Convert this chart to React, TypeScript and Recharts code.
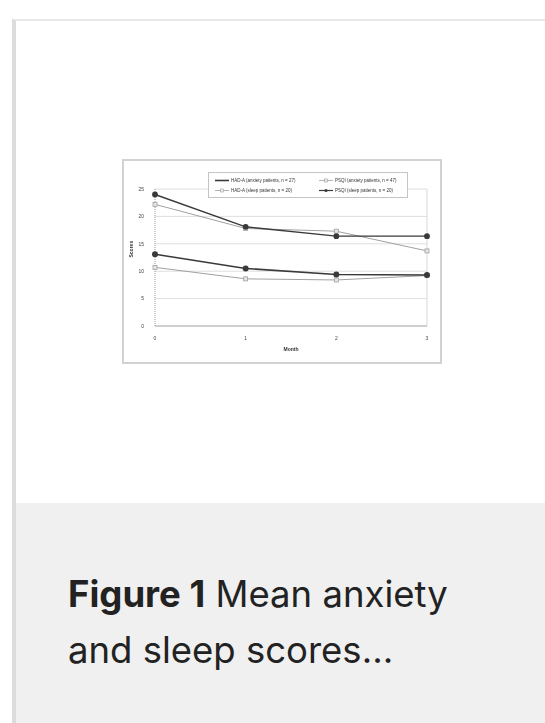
import { LineChart, Line, XAxis, YAxis, CartesianGrid, Legend, ReferenceLine } from "recharts";

const months = ["0", "1", "2", "3"];
const hadAnxiety = [13.1, 10.5, 9.4, 9.3];
const psqiAnxiety = [10.7, 8.6, 8.4, 9.2];
const hadSleep = [22.2, 17.8, 17.3, 13.7];
const psqiSleep = [24.0, 18.1, 16.4, 16.4];
const yTicks = [0, 5, 10, 15, 20, 25];

const seriesNames = {
  hadAnxiety: "HAD-A (anxiety patients, n = 27)",
  psqiAnxiety: "PSQI (anxiety patients, n = 47)",
  hadSleep: "HAD-A (sleep patients, n = 20)",
  psqiSleep: "PSQI (sleep patients, n = 20)",
};

const data = months.map((m, i) => ({
  month: m,
  hadAnxiety: hadAnxiety[i],
  psqiAnxiety: psqiAnxiety[i],
  hadSleep: hadSleep[i],
  psqiSleep: psqiSleep[i],
}));

const DARK = "#3a3a3a";
const GRAY = "#a0a0a0";
const chartFont = "'Liberation Sans', Arial, sans-serif";

function SquareDot(props: any) {
  const { cx, cy } = props;
  if (cx == null || cy == null) return null;
  return <rect x={cx - 2} y={cy - 2} width={4} height={4} fill="#e6e6e6" stroke={GRAY} strokeWidth={0.8} />;
}

function Swatch({ color, width, marker }: { color: string; width: number; marker?: "dot" | "square" }) {
  return (
    <svg width={14} height={5} style={{ display: "block", flex: "none" }}>
      <line x1={0} y1={2.5} x2={14} y2={2.5} stroke={color} strokeWidth={width} />
      {marker === "dot" && <circle cx={7} cy={2.5} r={1.6} fill={color} />}
      {marker === "square" && <rect x={5.5} y={1} width={3} height={3} fill="#eee" stroke={color} strokeWidth={0.6} />}
    </svg>
  );
}

function LegendBox() {
  const items: [string, string, number, ("dot" | "square")?][] = [
    [seriesNames.hadAnxiety, DARK, 1.6],
    [seriesNames.psqiAnxiety, GRAY, 0.8, "square"],
    [seriesNames.hadSleep, GRAY, 0.8, "square"],
    [seriesNames.psqiSleep, DARK, 1.2, "dot"],
  ];
  return (
    <div
      style={{
        boxSizing: "border-box",
        width: 200,
        height: 26,
        border: "1px solid #c4c4c4",
        background: "#fff",
        display: "grid",
        gridTemplateColumns: "104px 94px",
        alignItems: "center",
        padding: "2px 0 2px 6px",
        fontFamily: chartFont,
        fontSize: 4.5,
        color: "#333",
      }}
    >
      {items.map(([name, color, w, marker]) => (
        <div key={name} style={{ display: "flex", alignItems: "center", gap: 2, whiteSpace: "nowrap" }}>
          <Swatch color={color} width={w} marker={marker} />
          <span>{name}</span>
        </div>
      ))}
    </div>
  );
}

export default function App() {
  return (
    <div style={{ position: "absolute", left: 0, top: 0, width: 545, height: 723, background: "#fff", overflow: "hidden" }}>
      {/* card frame */}
      <div style={{ position: "absolute", left: 12, top: 19, right: 0, bottom: 0, borderLeft: "4px solid #dcdcdc", borderTop: "2px solid #e8e8e8" }} />
      {/* caption band */}
      <div style={{ position: "absolute", left: 16, top: 503, right: 0, bottom: 0, background: "#f0f0f0" }} />
      <div
        style={{
          position: "absolute",
          left: 68,
          top: 566,
          width: 420,
          fontFamily: "Inter, 'Noto Sans', sans-serif",
          fontSize: 36.5,
          lineHeight: "56px",
          color: "#222",
          whiteSpace: "nowrap",
        }}
      >
        <span style={{ fontWeight: 700 }}>Figure 1</span>
        <span> Mean anxiety</span>
        <br />
        <span>and sleep scores…</span>
      </div>

      {/* figure thumbnail */}
      <div style={{ position: "absolute", left: 122, top: 159, width: 320, height: 205, boxSizing: "border-box", border: "2px solid #d2d2d2", background: "#fff" }} />
      <div style={{ position: "absolute", left: 123, top: 160, width: 318, height: 203, filter: "blur(0.5px)" }}>
        <LineChart width={318} height={203} data={data} margin={{ top: 3, right: 14, bottom: 0, left: 0 }}>
          <CartesianGrid vertical={false} stroke="#d6d6d6" strokeWidth={0.8} />
          <XAxis
            dataKey="month"
            height={37}
            axisLine={{ stroke: "#b0b0b0" }}
            tickLine={false}
            tick={{ fontSize: 5, fill: "#444", fontFamily: chartFont }}
            tickMargin={4}
            label={{ value: "Month", position: "insideBottom", offset: 12, fontSize: 5, fill: "#333", fontWeight: 700, fontFamily: chartFont }}
          />
          <YAxis
            width={32}
            domain={[0, 25]}
            ticks={yTicks}
            axisLine={{ stroke: "#999", strokeDasharray: "1 1" }}
            tickLine={false}
            tick={{ fontSize: 5, fill: "#444", fontFamily: chartFont }}
            tickMargin={5}
            label={{ value: "Scores", angle: -90, position: "insideLeft", offset: 8, fontSize: 5, fill: "#333", fontWeight: 700, fontFamily: chartFont }}
          />
          <ReferenceLine x="3" stroke="#cfcfcf" strokeWidth={0.8} />
          <Legend
            verticalAlign="top"
            content={<LegendBox />}
            wrapperStyle={{ position: "absolute", left: 85, top: 12, width: 200, height: 26 }}
          />
          <Line dataKey="psqiAnxiety" name={seriesNames.psqiAnxiety} stroke={GRAY} strokeWidth={1} dot={<SquareDot />} isAnimationActive={false} />
          <Line dataKey="hadSleep" name={seriesNames.hadSleep} stroke={GRAY} strokeWidth={1} dot={<SquareDot />} isAnimationActive={false} />
          <Line dataKey="hadAnxiety" name={seriesNames.hadAnxiety} stroke={DARK} strokeWidth={1.6} dot={{ r: 2.2, fill: DARK, stroke: DARK }} isAnimationActive={false} />
          <Line dataKey="psqiSleep" name={seriesNames.psqiSleep} stroke={DARK} strokeWidth={1.4} dot={{ r: 2.2, fill: DARK, stroke: DARK }} isAnimationActive={false} />
        </LineChart>
      </div>
    </div>
  );
}
